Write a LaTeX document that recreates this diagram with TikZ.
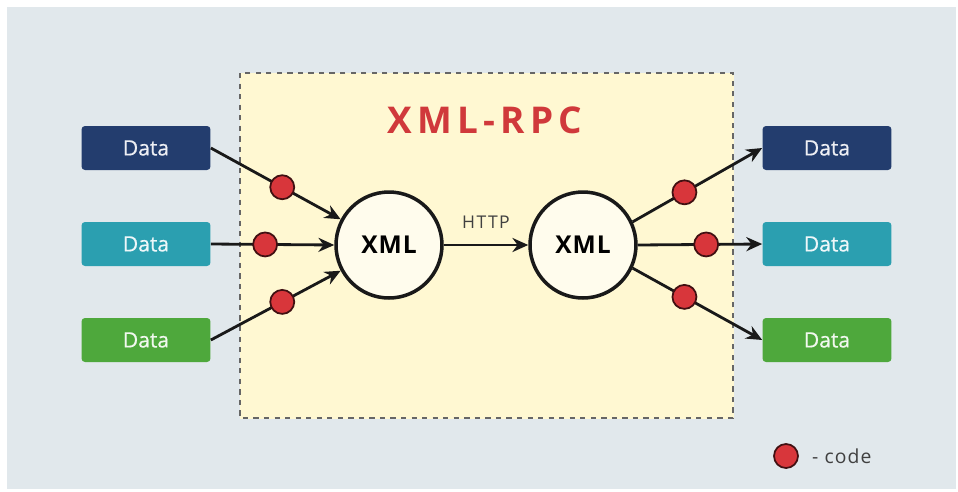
\documentclass[tikz,border=0pt]{standalone}
\usepackage{fontspec}
\setmainfont{Open Sans}
\usetikzlibrary{arrows.meta}
\definecolor{bggray}{HTML}{E1E8EC}
\definecolor{paneyellow}{HTML}{FFF8D2}
\definecolor{navy}{HTML}{233D6E}
\definecolor{teal}{HTML}{2B9FB0}
\definecolor{leaf}{HTML}{4EA83C}
\definecolor{dotred}{HTML}{D8363B}
\definecolor{titlered}{HTML}{D0393B}

\begin{document}
\begin{tikzpicture}[x=0.02cm, y=-0.02cm,
    databox/.style={rounded corners=2pt, minimum width=2.58cm, minimum height=0.88cm,
                    text=white!92!#1, font=\fontsize{12}{14}\selectfont\addfontfeatures{FakeBold=0.6}, fill=#1},
    xmlnode/.style={circle, draw=black!90, line width=2pt, fill=white!60!paneyellow,
                    minimum size=2.12cm, font=\fontsize{14}{16}\selectfont\bfseries\addfontfeatures{LetterSpace=4}},
    codedot/.style={circle, fill=dotred, draw=black!70!dotred, line width=1pt,
                    minimum size=0.48cm, inner sep=0pt},
    arr/.style={-{Stealth[length=9pt, width=8pt]}, line width=1.6pt, black!90}]
  \useasboundingbox (0,0) rectangle (958,491);
  \fill[white] (0,0) rectangle (958,491);
  \fill[bggray] (7,7) rectangle (956,489);
  % RPC pane
  \draw[paneyellow, fill=paneyellow] (240,73) rectangle (733,418);
  \draw[black!60, dashed, line width=0.7pt] (240,73) rectangle (733,418);
  \node[text=titlered, font=\fontsize{21}{24}\selectfont\bfseries\addfontfeatures{LetterSpace=14}] (title) at (485,120) {XML-RPC};
  % data boxes
  \node[databox=navy] (dl1) at (146,148) {Data};
  \node[databox=teal] (dl2) at (146,244) {Data};
  \node[databox=leaf] (dl3) at (146,340) {Data};
  \node[databox=navy] (dr1) at (827,148) {Data};
  \node[databox=teal] (dr2) at (827,244) {Data};
  \node[databox=leaf] (dr3) at (827,340) {Data};
  % xml ends
  \node[xmlnode] (xl) at (389,245) {XML};
  \node[xmlnode] (xr) at (583,245) {XML};
  \draw[arr] (xl) -- (xr) node[midway, above=5pt, text=black!75,
    font=\fontsize{10}{12}\selectfont\addfontfeatures{LetterSpace=8}] (http) {HTTP};
  % incoming and outgoing data
  \draw[arr] (dl1.east) -- (xl.152) node[codedot, pos=0.55] (cl1) {};
  \draw[arr] (dl2.east) -- (xl.west) node[codedot, pos=0.44] (cl2) {};
  \draw[arr] (dl3.east) -- (xl.208) node[codedot, pos=0.55] (cl3) {};
  \draw[arr] (xr.25) -- (dr1.west) node[codedot, pos=0.40] (cr1) {};
  \draw[arr] (xr.east) -- (dr2.west) node[codedot, pos=0.55] (cr2) {};
  \draw[arr] (xr.-25) -- (dr3.west) node[codedot, pos=0.40] (cr3) {};
  % legend
  \node[codedot] (key) at (786,456) {};
  \node[right=4pt, text=black!75, font=\fontsize{11}{13}\selectfont\addfontfeatures{LetterSpace=6}] (keytext) at (key.east) {- code};
\end{tikzpicture}
\end{document}
